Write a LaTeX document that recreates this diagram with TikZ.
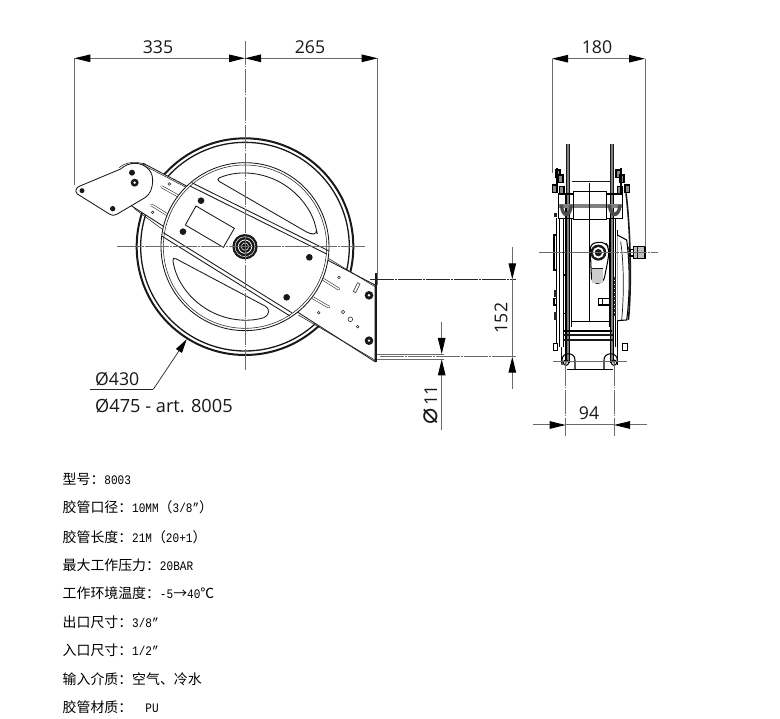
\documentclass[tikz,border=0pt]{standalone}
\usepackage{fontspec}
\setmainfont[FakeStretch=0.85]{Liberation Mono}
\newfontfamily\cjk{Noto Sans CJK SC}
\newfontfamily\dimfont{Open Sans}
\newfontfamily\dejavu{DejaVu Sans}
\usetikzlibrary{arrows.meta,calc}
\newcommand{\zh}[1]{{\cjk\fontsize{13.9}{15}\selectfont #1}}
\definecolor{dimgray}{gray}{0.42}
\definecolor{platefill}{gray}{0.5}
\tikzset{
  dimline/.style={draw=dimgray,line width=1pt},
  tipa/.style={-{Triangle[length=16pt,width=7.5pt,black]}},
  tipb/.style={{Triangle[length=16pt,width=7.5pt,black]}-{Triangle[length=16pt,width=7.5pt,black]}},
  ext/.style={draw=dimgray,line width=.9pt},
  center/.style={draw=dimgray,line width=.9pt,dash pattern=on 24pt off 1pt on 1.5pt off 1.5pt},
  blackcenter/.style={draw=black!85,line width=.8pt,dash pattern=on 24pt off 1pt on 1.5pt off 1.5pt},
  dimtext/.style={font=\dimfont\fontsize{17.7}{20}\selectfont,text=black!90,inner sep=0pt},
  spec/.style={font=\fontsize{13}{15}\selectfont,anchor=base west,inner sep=0pt,text=black},
  outl/.style={draw=black!90,line width=.85pt},
  thinl/.style={draw=black!85,line width=.55pt},
  heavy/.style={draw=black!90,line width=1.5pt},
  zoomA/.style={shift={(60pt,-130pt)},x=.33333pt,y=-.33333pt},
  zoomB/.style={shift={(530pt,-130pt)},x=.33333pt,y=-.33333pt},
}
\begin{document}
\begin{tikzpicture}[x=1pt,y=-1pt]
\useasboundingbox (0,0) rectangle (780,719);
\fill[white] (0,0) rectangle (780,719);

% ---------- front view ----------
\begin{scope}[zoomA]
  \coordinate (C) at (555,350);
  \draw[heavy,line width=2pt] (C) circle[radius=325];
  \draw[outl,line width=1.3pt] (C) circle[radius=313];
  % bracket
  \draw[outl,fill=white] (250,100) -- (945,465) -- (945,695) -- (215,228) -- cycle;
  \draw[thinl] (255,108) -- (390,178);
  \draw[thinl] (805,385) -- (945,470);
  \draw[thinl] (222,235) -- (310,300);
  \draw[thinl] (715,555) -- (945,690);
  % slots on bracket
  \draw[line width=2.6pt,line cap=round,black!85] (305,170) -- (358,200);
  \draw[line width=1.5pt,line cap=round,white] (305,170) -- (358,200);
  \draw[line width=2.6pt,line cap=round,black!85] (275,225) -- (325,256);
  \draw[line width=1.5pt,line cap=round,white] (275,225) -- (325,256);
  \draw[line width=2.6pt,line cap=round,black!85] (788,447) -- (836,477);
  \draw[line width=1.5pt,line cap=round,white] (788,447) -- (836,477);
  \draw[line width=2.6pt,line cap=round,black!85] (758,503) -- (806,531);
  \draw[line width=1.5pt,line cap=round,white] (758,503) -- (806,531);
  % drum
  \draw[outl,fill=white] (C) circle[radius=252];
  \draw[thinl] (C) circle[radius=245];
  % windows
  \draw[outl,rounded corners=4pt]
     ($(C)+(-113.5:220)$) arc[start angle=-113.5,end angle=-13,radius=220]
     -- (772,312) -- (750,312) -- cycle;
  \draw[outl,rounded corners=4pt]
     ($(C)+(172:220)$) arc[start angle=172,end angle=72,radius=220]
     -- (628,535) -- cycle;
  \draw[outl] (408,228) -- (523,295) -- (490,352) -- (376,285) -- cycle;
  % central band
  \draw[outl] (395,158) -- (805,362);
  \draw[outl] (390,168) -- (800,372);
  \draw[outl] (310,308) -- (695,548);
  \draw[outl] (305,318) -- (690,558);
  % bolts
  \foreach \x/\y/\r in {423/212/10,369/305/10,748/382/10,680/502/10}
    \fill[black!90] (\x,\y) circle[radius=\r];
  \foreach \x/\y/\r in {328/162/4,278/247/4,837/442/4,776/548/4,849/546/5,871/568/7,893/590/4}
    \draw[thinl,fill=white] (\x,\y) circle[radius=\r];
  \foreach \x/\y in {927/496,927/632}{
    \fill[black!90] (\x,\y) circle[radius=13];
    \fill[white] (\x,\y) circle[radius=4];
  }
  \draw[thinl,fill=white] (880,484) -- (893,458) -- (900,462) -- (887,488) -- cycle;
  % hub
  \fill[black!90] (C) circle[radius=38];
  \draw[white,line width=.5pt] (C) circle[radius=30];
  \draw[white,line width=.8pt] (C) circle[radius=20];
  \draw[white,line width=.5pt] (C) circle[radius=11];
  % arm plate
  \draw[outl,fill=white] (60,168)
     .. controls (50,172) and (42,182) .. (52,192)
     -- (148,252) .. controls (158,258) and (165,256) .. (172,252)
     -- (255,203) .. controls (270,194) and (278,175) .. (278,150)
     .. controls (278,118) and (250,100) .. (225,100)
     .. controls (208,100) and (195,106) .. (182,117) -- cycle;
  \draw[thinl] (178,113) .. controls (195,97) and (232,90) .. (258,106);
  \foreach \x/\y/\r in {216/128/9,66/182/7.5,158/236/8}
    \fill[black!90] (\x,\y) circle[radius=\r];
  \fill[black!90] (224,158) circle[radius=12];
  \fill[white] (224,158) circle[radius=4];
  % end flange
  \draw[black!90,line width=1.3pt] (948,465) -- (948,660);
  \draw[black!90,line width=2.4pt] (948,430) -- (948,470);
  \draw[black!90,line width=2.4pt] (948,660) -- (948,695);
\end{scope}

% ---------- centre lines / dims of front view ----------
\coordinate (vT) at (245,41);
\coordinate (vB) at (245,370);
\coordinate (hL) at (117,246.7);
\coordinate (hR) at (366,246.7);
\draw[center] (vT) -- (vB);
\draw[center] (hL) -- (hR);
\coordinate (dL) at (74.3,58.3);
\coordinate (dM) at (245,58.3);
\coordinate (dR) at (377.7,58.3);
\coordinate (eL) at (74.3,185);
\coordinate (eR) at (377.7,285);
\draw[ext] (dL) -- (eL);
\draw[ext] (dR) -- (eR);
\draw[dimline,tipb] (dL) -- (dM);
\draw[dimline,tipb] (dM) -- (dR);
\node[dimtext] (t335) at (158,47) {335};
\node[dimtext] (t265) at (310,47) {265};

% 152 and 11
\coordinate (a1) at (370,279.3);
\coordinate (a2) at (512.3,279.3);
\coordinate (a2x) at (516,279.3);
\coordinate (a3) at (380,356.7);
\coordinate (a4) at (512.3,356.7);
\coordinate (a4x) at (516,356.7);
\coordinate (a5) at (512.3,247);
\coordinate (a6) at (512.3,389);
\draw[blackcenter] (a1) -- (a2x);
\draw[center] (a3) -- (a4x);
\draw[dimline] (a2) -- (a4);
\draw[dimline,tipa] (a5) -- (a2);
\draw[dimline,tipa] (a6) -- (a4);
\node[dimtext,rotate=90] (t152) at (501,318) {152};
\coordinate (b1) at (377,354);
\coordinate (b2) at (444,354);
\coordinate (b3) at (377,359.4);
\coordinate (b4) at (444,359.4);
\draw[ext] (b1) -- (b2);
\draw[ext] (b3) -- (b4);
\coordinate (b5) at (441.7,321.7);
\coordinate (b6) at (441.7,354);
\coordinate (b7) at (441.7,430);
\coordinate (b8) at (441.7,359.4);
\draw[dimline,tipa] (b5) -- (b6);
\draw[dimline,tipa] (b7) -- (b8);
\node[dimtext,rotate=90] (t11) at (430.5,405) {{\dejavu\fontsize{27}{28}\selectfont ⌀}\hspace{2pt}11};

% Ø430
\coordinate (l1) at (90,389.3);
\coordinate (l2) at (153.3,389.3);
\coordinate (l3) at (186.7,339.3);
\draw[draw=black!85,line width=.7pt] (l1) -- (l2);
\draw[draw=black!85,line width=.7pt,-{Triangle[length=14pt,width=7pt,black]}] (l2) -- (l3);
\node[dimtext,anchor=base west] (t430) at (95,386) {Ø430};
\node[dimtext,anchor=base west,font=\dimfont\fontsize{18.2}{20}\selectfont] (t475) at (95,412.7) {Ø475 - art. 8005};

% ---------- side view ----------
\begin{scope}[zoomB,outl/.style={draw=black,line width=1.05pt},thinl/.style={draw=black!90,line width=.7pt}]
  % drum
  \draw[thinl] (125,155) -- (240,155);
  \draw[outl] (125,575) -- (240,575);
  \draw[outl] (125,265) -- (125,590);
  \draw[outl] (240,265) -- (240,590);
  % outer frames
  \draw[black,line width=1.5pt] (80,265) -- (80,650);
  \draw[outl] (88,265) -- (88,650);
  \draw[outl] (100,265) -- (100,650);
  \draw[outl] (245,265) -- (245,650);
  \draw[black,line width=1.5pt] (256,265) -- (256,650);
  \draw[outl] (262,300) -- (262,650);
  \fill[platefill] (108,42) rectangle (118,700);
  \fill[platefill] (241,42) rectangle (251,700);
  \draw[thinl] (108,42) -- (108,190);
  \draw[thinl] (118,42) -- (118,190);
  \draw[thinl] (241,42) -- (241,190);
  \draw[thinl] (251,42) -- (251,190);
  \draw[outl] (108,190) -- (108,700);
  \draw[outl] (118,190) -- (118,700);
  \draw[outl] (241,190) -- (241,700);
  \draw[outl] (251,190) -- (251,700);
  % clamps top
  \draw[outl,fill=white] (130,185) rectangle (230,268);
  \fill[platefill] (85,223) rectangle (278,233);
  \draw[outl] (85,192) rectangle (130,265);
  \draw[outl] (230,192) rectangle (278,265);
  \fill[black!70] (90,225) .. controls (90,270) and (128,270) .. (128,225) -- (118,225) .. controls (118,255) and (100,255) .. (100,225) -- cycle;
  \fill[black!70] (234,225) .. controls (234,270) and (274,270) .. (274,225) -- (264,225) .. controls (264,255) and (244,255) .. (244,225) -- cycle;
  % hardware above clamps
  \foreach \x/\y in {68/165,76/120,85/135,88/170,258/120,268/135,262/170,285/165}
    \draw[outl,fill=black!45] (\x,\y) rectangle +(14,22);
  \draw[black,line width=1.8pt] (82,115) -- (82,190);
  \draw[black,line width=1.8pt] (272,115) -- (272,190);
  % centre disc
  \draw[black,line width=1.6pt] (179,160) -- (179,575);
  % hub
  \draw[outl,fill=white,rounded corners=6pt] (180,340) -- (225,335) -- (238,355) -- (235,385) -- (220,460) -- (185,460) -- cycle;
  \fill[platefill!40] (185,415) rectangle (220,460);
  \draw[thinl] (185,415) -- (220,415);
  \fill[black!90] (205,368) circle[radius=24];
  \fill[white] (205,368) circle[radius=17];
  \fill[black!90] (205,368) circle[radius=11];
  \draw[outl,fill=white] (205,505) rectangle (240,525);
  \draw[black,line width=1.2pt] (218,505) -- (218,525);
  % right disc
  \draw[outl,fill=white] (262,315) -- (290,330) .. controls (300,400) and (300,500) .. (290,570) -- (262,572);
  \draw[black!90,line width=1.6pt] (288,190) .. controls (302,300) and (305,480) .. (295,570);
  \draw[thinl] (272,335) .. controls (282,400) and (282,500) .. (275,570);
  \draw[black!85,line width=2.2pt,dash pattern=on 3pt off 1pt] (255,440) -- (255,560);
  \draw[black!85,line width=2pt,dash pattern=on 3pt off 1pt] (297,350) -- (300,420);
  % left side small items
  \draw[outl,fill=white] (72,315) rectangle (80,420);
  \draw[outl,fill=white] (72,505) rectangle (80,525);
  \fill[black!85] (72,480) rectangle (80,500);
  \fill[black!85] (72,250) rectangle (80,262);
  \fill[black!85] (72,545) rectangle (80,570);
  \draw[outl,fill=white] (100,435) rectangle (108,550);
  % knob
  \draw[outl,fill=black!25] (310,350) rectangle (345,385);
  \draw[thinl] (322,350) -- (322,385);
  \draw[outl] (300,358) rectangle (310,378);
  % cross bars
  \draw[outl] (100,603) -- (245,603);
  \draw[black!90,line width=1.8pt] (100,614) -- (250,614);
  \draw[black!90,line width=1.8pt] (100,630) -- (250,630);
  % feet
  \draw[outl,fill=white] (70,640) rectangle (82,662);
  \draw[outl,fill=white] (278,640) rectangle (292,662);
  \draw[black!90,line width=1.6pt] (95,650) -- (95,700);
  \draw[black!90,line width=1.6pt] (262,650) -- (262,700);
  \draw[outl] (96,705) -- (96,690) .. controls (96,665) and (135,665) .. (135,690) -- (135,718);
  \draw[outl] (222,718) -- (222,690) .. controls (222,665) and (262,665) .. (262,690) -- (262,705);
  \draw[outl] (112,718) -- (248,718);
  \foreach \x in {108,252}{
    \draw[outl,fill=white] (\x,698) circle[radius=8];
    \fill[platefill] (\x,698) circle[radius=4];
  }
\end{scope}

% side dims
\coordinate (s1) at (539,252.7);
\coordinate (s2) at (658,252.7);
\draw[center] (s1) -- (s2);
\coordinate (e1a) at (552,58.7);
\coordinate (e1b) at (552,173);
\coordinate (e2a) at (645,58.7);
\coordinate (e2b) at (645,247);
\draw[ext] (e1a) -- (e1b);
\draw[ext] (e2a) -- (e2b);
\draw[dimline,tipb] (e1a) -- (e2a);
\node[dimtext] (t180) at (597,47.5) {180};
\coordinate (c1) at (565.7,362);
\coordinate (c2) at (565.7,436);
\coordinate (c3) at (614,362);
\coordinate (c4) at (614,436);
\draw[center] (c1) -- (c2);
\draw[center] (c3) -- (c4);
\coordinate (d1) at (533,425);
\coordinate (d2) at (565.7,425);
\coordinate (d3) at (614,425);
\coordinate (d4) at (647,425);
\draw[dimline] (d2) -- (d3);
\draw[dimline,tipa] (d1) -- (d2);
\draw[dimline,tipa] (d4) -- (d3);
\node[dimtext] (t94) at (589,413) {94};
\coordinate (f1) at (553,362);
\coordinate (f2) at (627,362);
\draw[dimline] (f1) -- (f2);

% ---------- specification ----------
\node[spec] (p1) at (62.5,485) {\zh{型号：}8003};
\node[spec] (p2) at (62.5,513) {\zh{胶管口径：}10MM\zh{（}3/8"\zh{）}};
\node[spec] (p3) at (62.5,542) {\zh{胶管长度：}21M\zh{（}20+1\zh{）}};
\node[spec] (p4) at (62.5,570) {\zh{最大工作压力：}20BAR};
\node[spec] (p5) at (62.5,598) {\zh{工作环境温度：}-5\zh{→}40\zh{℃}};
\node[spec] (p6) at (62.5,627) {\zh{出口尺寸：}3/8"};
\node[spec] (p7) at (62.5,655) {\zh{入口尺寸：}1/2"};
\node[spec] (p8) at (62.5,684) {\zh{输入介质：空气、冷水}};
\node[spec] (p9) at (62.5,712) {\zh{胶管材质：}~~PU};
\end{tikzpicture}
\end{document}
